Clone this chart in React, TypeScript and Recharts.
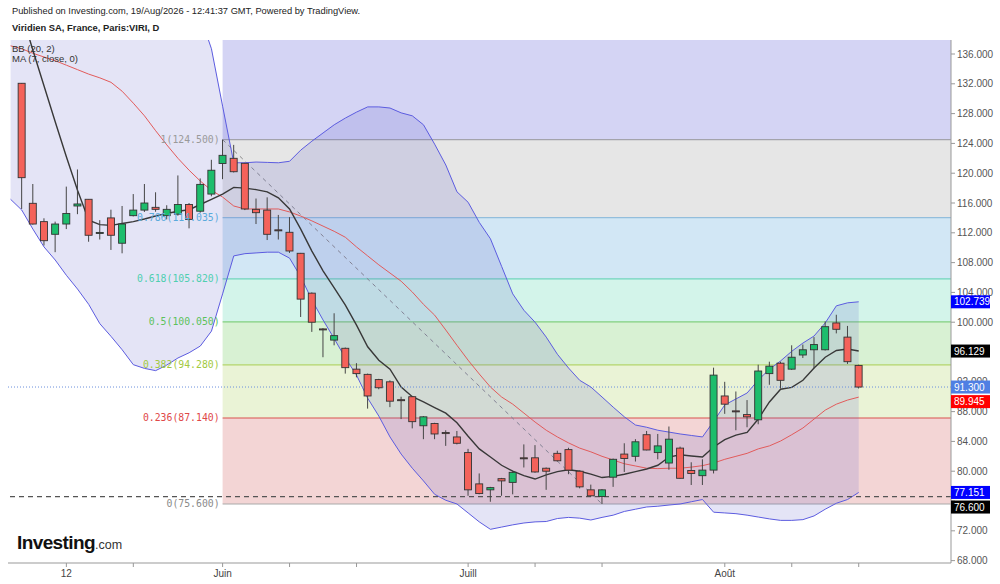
import React from 'react';
import {
  Area,
  Bar,
  ComposedChart,
  Line,
  ReferenceArea,
  ReferenceLine,
  XAxis,
  YAxis,
} from 'recharts';

// daily sessions, slot 0 = 06/05/2026 ... slot 75 = 19/08/2026
const opens = [
  132.07, 115.96, 113.5, 111.8, 113.18, 115.6, 116.5, 111.95, 114.0, 110.6,
  114.3, 115.05, 115.42, 114.3, 114.5, 115.8, 114.9, 117.2, 121.3, 122.0,
  121.33, 115.15, 115.05, 112.4, 112.07, 109.25, 103.9, 99.1, 97.6, 96.5,
  93.7, 93.0, 92.3, 92.0, 89.6, 90.0, 86.1, 86.4, 85.2, 84.6,
  82.5, 78.3, 77.5, 79.0, 78.5, 81.8, 81.8, 80.4, 82.4, 82.9,
  80.0, 77.5, 76.6, 79.2, 82.3, 82.0, 84.9, 82.5, 81.1, 83.1,
  80.1, 79.4, 80.15, 90.1, 88.1, 87.6, 86.9, 93.1, 94.5, 93.7,
  95.6, 96.3, 96.3, 99.9, 98.0, 94.2,
];
const highs = [
  132.1, 118.55, 113.95, 113.5, 118.2, 120.5, 116.5, 113.7, 115.1, 115.6,
  117.2, 118.55, 117.44, 115.7, 119.7, 116.0, 119.3, 121.8, 124.5, 123.8,
  121.4, 116.6, 116.76, 114.4, 114.1, 109.3, 104.0, 99.2, 101.2, 96.6,
  94.5, 93.1, 92.4, 92.2, 90.0, 90.1, 87.4, 86.5, 85.5, 85.4,
  83.0, 79.7, 77.9, 79.1, 80.0, 83.6, 83.5, 80.5, 82.75, 83.15,
  80.1, 78.2, 77.6, 81.7, 83.75, 84.3, 85.4, 85.0, 86.0, 83.3,
  81.2, 81.6, 93.9, 92.0, 90.7, 89.55, 94.3, 94.7, 94.7, 96.9,
  97.0, 98.0, 100.1, 101.0, 99.5, 94.3,
];
const lows = [
  115.2, 113.1, 110.3, 109.4, 112.5, 114.5, 110.8, 111.1, 109.7, 109.25,
  114.2, 114.8, 114.83, 113.8, 114.3, 112.6, 114.7, 116.9, 119.2, 120.1,
  115.05, 113.18, 111.03, 111.1, 109.3, 100.7, 98.7, 95.3, 96.9, 93.1,
  92.6, 88.4, 91.0, 88.6, 87.0, 85.75, 84.3, 84.3, 83.4, 83.6,
  76.7, 76.9, 75.9, 76.7, 76.9, 80.5, 79.8, 77.5, 81.3, 79.6,
  77.7, 76.6, 75.6, 77.9, 79.9, 81.3, 82.8, 81.6, 80.2, 79.0,
  78.15, 78.15, 79.7, 87.7, 85.5, 85.9, 86.3, 91.6, 91.1, 93.6,
  95.2, 93.8, 96.2, 98.5, 94.4, 91.1,
];
const closes = [
  119.4, 113.18, 110.94, 113.18, 114.6, 115.87, 111.67, 112.05, 111.67, 113.18,
  115.05, 116.0, 115.15, 115.15, 115.8, 113.8, 118.5, 120.4, 122.4, 120.2,
  115.2, 114.7, 111.8, 112.3, 109.56, 103.1, 100.0, 99.0, 98.2, 93.9,
  93.1, 90.1, 91.2, 89.4, 89.5, 86.65, 87.3, 85.0, 85.05, 83.75,
  77.5, 77.0, 77.8, 78.7, 79.85, 81.7, 79.9, 80.0, 81.4, 80.15,
  77.9, 76.7, 77.5, 81.6, 81.7, 83.95, 82.85, 83.4, 84.3, 79.05,
  79.7, 80.15, 92.9, 89.0, 88.0, 87.3, 93.45, 94.1, 92.2, 95.3,
  96.3, 97.0, 99.4, 99.05, 94.7, 91.3,
];

// indicators; they start one session earlier (slot -1)
const bbUpper = [
  157, 158.3, 159.7, 161.1, 161.9, 162.7, 163.4, 164.2, 165.8, 166.3, 165.7,
  164.5, 161.6, 157.9, 153.4, 148.8, 144.9, 141.1, 136.7, 129.0, 121.4,
  121.4, 121.5, 121.45, 121.4, 121.6, 123.1, 124.3, 125.4, 126.5, 127.4,
  128.2, 128.9, 128.9, 128.75, 128.1, 127.7, 126.5, 123.9, 121.1, 117.5,
  116.1, 113.4, 111.2, 107.5, 103.8, 101.6, 100.0, 98.0, 95.7, 93.85,
  92.2, 91.3, 89.96, 88.6, 87.3, 86.2, 85.9, 85.5, 85.25, 85.0,
  84.8, 84.6, 86.7, 88.9, 89.7, 90.5, 92.24, 93.7, 94.8, 96.1,
  97.2, 98.15, 99.9, 102.2, 102.6, 102.739,
];
const bbMid = [
  137.1, 136.7, 136.1, 135.6, 135.1, 134.5, 133.9, 133.3, 132.8, 132.2, 131.0,
  129.4, 127.7, 125.7, 123.8, 122.0, 120.4, 118.95, 117.7, 116.8, 115.6,
  115.2, 115.2, 115.2, 115.2, 114.8, 114.25, 113.6, 112.9, 112.2, 111.4,
  110.1, 108.9, 107.7, 106.6, 105.5, 104.05, 102.4, 100.95, 98.95, 96.9,
  94.9, 93.05, 91.3, 89.96, 89.0, 87.8, 86.6, 85.5, 84.6, 83.8,
  83.1, 82.6, 82.0, 81.5, 81.0, 80.7, 80.4, 80.35, 80.4, 80.4,
  80.55, 80.75, 81.1, 81.6, 82.0, 82.4, 83.0, 83.4, 84.05, 84.9,
  85.8, 87.0, 88.2, 89.0, 89.55, 89.945,
];
const bbLower = [
  116.5, 115.06, 112.5, 110.1, 108.35, 106.3, 104.45, 102.4, 99.8, 98.1, 96.3,
  94.3, 93.8, 93.5, 94.25, 95.2, 95.9, 96.8, 98.8, 103.8, 108.9,
  109.2, 109.3, 109.4, 109.4, 108.6, 106.1, 103.0, 100.3, 97.8, 95.2,
  92.9, 89.8, 87.4, 84.6, 82.3, 80.4, 78.7, 76.9, 76.1, 75.6,
  74.4, 73.2, 72.2, 72.5, 72.8, 73.05, 73.2, 73.25, 73.65, 73.8,
  73.7, 73.45, 73.8, 74.1, 74.6, 74.9, 75.2, 75.3, 75.46, 75.6,
  75.9, 76.2, 74.5, 74.4, 74.3, 74.1, 73.85, 73.6, 73.4, 73.4,
  73.5, 74.0, 74.9, 75.7, 76.2, 77.151,
];
const ma7 = [
  144.5, 141.5, 136.5, 131.7, 126.9, 122.2, 117.7, 113.7, 113.1, 113.0, 113.25,
  113.5, 113.85, 114.25, 114.6, 114.9, 115.1, 115.8, 116.5, 117.2, 118.1,
  118.0, 117.8, 117.5, 116.7, 115.2, 112.5, 109.55, 106.9, 104.6, 102.3,
  99.6, 96.7, 94.9, 93.7, 91.3, 90.0, 89.3, 88.55, 87.8, 86.5,
  84.7, 83.0, 81.9, 80.8, 80.0, 79.4, 78.95, 79.5, 79.95, 80.2,
  80.0, 79.6, 79.15, 79.3, 79.6, 79.95, 80.3, 80.8, 81.9, 82.2,
  82.05, 81.9, 83.25, 84.25, 84.85, 85.2, 87.0, 89.3, 91.0, 91.25,
  92.2, 93.85, 95.3, 96.2, 96.4, 96.129,
];

const tickSlots = [4, 10, 18, 24, 30, 40, 46, 52, 63, 69, 75];
const tickNames = ['12', '', 'Juin', '', '', 'Juill', '', '', 'Août', '', ''];
const priceTicks = [68, 72, 76, 80, 84, 88, 92, 96, 100, 104, 108, 112, 116, 120, 124, 128, 132, 136];

// fibonacci retracement from the 01/06 high to the 17/07 low
const fibLevels = [1, 0.786, 0.618, 0.5, 0.382, 0.236, 0];
const fibPrices = [124.5, 114.035, 105.82, 100.05, 94.28, 87.14, 75.6];
const fibFrom = 18;
const fibTo = 52;
const supportLine = 76.6;

const fibLineColors = ['#a3a3ab', '#93bedc', '#6fd3bd', '#80cf80', '#b2d56a', '#d9534f', '#aaaaaa'];
const fibTextColors = ['#9a9a9a', '#5aaadc', '#4fcfb0', '#5cc25c', '#a2c940', '#e04848', '#8a8a8a'];
const fibZoneColors = ['#d4d4f4', '#e6e6e6', '#d2e7f5', '#d3f4ea', '#d8f1d3', '#eaf3d6', '#f3d5d5'];

const X_MIN = -1.23;
const X_MAX = 83.27;
const Y_MIN = 67.68;
const Y_MAX = 137.88;
const AXIS_W = 49;

const rows = bbMid.map((_, k) => {
  const i = k - 1;
  const has = i >= 0;
  return {
    i,
    o: has ? opens[i] : null,
    h: has ? highs[i] : null,
    l: has ? lows[i] : null,
    c: has ? closes[i] : null,
    up: bbUpper[k],
    mid: bbMid[k],
    low: bbLower[k],
    ma: ma7[k],
  };
});

const last = (a: number[]) => a[a.length - 1];

// last values shown as coloured boxes on the price scale (dy: pushed apart like TradingView does)
const tags = [
  { v: last(bbUpper), bg: '#0000ff', dy: 0 },
  { v: last(ma7), bg: '#000000', dy: 0 },
  { v: last(closes), bg: '#4f7fe3', dy: 0 },
  { v: last(bbMid), bg: '#ff0000', dy: 4.5 },
  { v: last(bbLower), bg: '#0000ff', dy: 0 },
  { v: supportLine, bg: '#000000', dy: 10.5 },
];

// tag values go last so they are painted over the regular labels
const axisTicks = [...priceTicks, ...tags.map((t) => t.v)];

function Candle(props: any) {
  const { x, y, width, height, payload } = props;
  if (payload == null || payload.o == null) return null;
  const { o, h, l, c } = payload;
  const top = Math.min(y, y + height);
  const span = Math.abs(height);
  const range = h - l || 1;
  const py = (v: number) => top + ((h - v) / range) * span;
  const bull = c >= o;
  const bTop = py(Math.max(o, c));
  const bBot = py(Math.min(o, c));
  const cx = x + width / 2;
  return (
    <g>
      <line x1={cx} x2={cx} y1={top} y2={top + span} stroke="#454545" strokeWidth={1} />
      <rect
        x={x}
        y={bTop}
        width={width}
        height={Math.max(bBot - bTop, 1)}
        fill={bull ? '#1dbd6c' : '#f4625a'}
        stroke="#333"
        strokeWidth={0.9}
      />
    </g>
  );
}

function PriceTick(p: any) {
  const v = Number(p.payload.value);
  const t = tags.find((tg) => Math.abs(tg.v - v) < 1e-6);
  if (t) {
    const x0 = p.x - 6; // back to the axis line
    const y = p.y + t.dy;
    return (
      <g>
        <rect x={x0} y={y - 6.5} width={39} height={13} fill={t.bg} />
        <text x={x0 + 3} y={y + 3.6} fill="#fff" fontSize={10}>
          {t.v.toFixed(3)}
        </text>
      </g>
    );
  }
  // plain labels hidden under a tag
  if (tags.some((tg) => Math.abs(tg.v - v) < 0.65)) return null;
  return (
    <text x={p.x} y={p.y} dy="0.355em" textAnchor="start" fill="#555" fontSize={10}>
      {v.toFixed(3)}
    </text>
  );
}

export default function App() {
  const zoneTops = [Y_MAX, ...fibPrices.slice(0, -1)];
  return (
    <div
      style={{
        position: 'absolute',
        left: 0,
        top: 0,
        width: 1000,
        height: 584,
        background: '#fff',
        overflow: 'hidden',
        fontFamily: "'Liberation Sans', Arial, sans-serif",
      }}
    >
      <div style={{ position: 'absolute', left: 12, top: 6, fontSize: 9.3, color: '#222', whiteSpace: 'nowrap' }}>
        Published on Investing.com, 19/Aug/2026 - 12:41:37 GMT, Powered by TradingView.
      </div>
      <div
        style={{ position: 'absolute', left: 12, top: 22, fontSize: 9.4, fontWeight: 'bold', color: '#222', whiteSpace: 'nowrap' }}
      >
        Viridien SA, France, Paris:VIRI, D
      </div>

      <ComposedChart width={1000} height={584} data={rows} margin={{ top: 40, right: 0, bottom: 0, left: 8 }}>
        {zoneTops.map((t, k) => (
          <ReferenceArea
            key={'z' + k}
            x1={fibFrom}
            x2={X_MAX}
            y1={fibPrices[k]}
            y2={t}
            fill={fibZoneColors[k]}
            fillOpacity={1}
            stroke="none"
            ifOverflow="hidden"
            zIndex={-60}
          />
        ))}
        {fibPrices.map((p, k) => (
          <ReferenceLine
            key={'f' + k}
            segment={[
              { x: fibFrom, y: p },
              { x: X_MAX, y: p },
            ]}
            stroke={fibLineColors[k]}
            strokeWidth={1.2}
            ifOverflow="visible"
            zIndex={-50}
            label={{
              value: `${fibLevels[k]}(${p.toFixed(3)})`,
              position: 'left',
              offset: 3,
              fill: fibTextColors[k],
              fontSize: 9.8,
              fontFamily: "'DejaVu Sans Mono', monospace",
            }}
          />
        ))}
        <ReferenceLine
          segment={[
            { x: fibFrom, y: fibPrices[0] },
            { x: fibTo, y: last(fibPrices) },
          ]}
          stroke="#8a8a8a"
          strokeDasharray="4 4"
          ifOverflow="visible"
          zIndex={-40}
        />

        <XAxis
          type="number"
          dataKey="i"
          domain={[X_MIN, X_MAX]}
          allowDataOverflow
          ticks={tickSlots}
          tickFormatter={(v) => tickNames[tickSlots.indexOf(v)] ?? ''}
          interval={0}
          height={21}
          tickSize={4}
          tickMargin={3}
          stroke="#999"
          tick={{ fill: '#444', fontSize: 10 }}
        />
        <YAxis
          orientation="right"
          type="number"
          domain={[Y_MIN, Y_MAX]}
          allowDataOverflow
          ticks={axisTicks}
          interval={0}
          width={AXIS_W}
          tickSize={4}
          tickMargin={2}
          stroke="#999"
          tick={PriceTick}
        />

        <Area
          dataKey={(d: any) => [d.low, d.up]}
          type="linear"
          fill="#5c5cc8"
          fillOpacity={0.17}
          stroke="none"
          isAnimationActive={false}
        />
        <Line dataKey="up" type="linear" stroke="#5c5ce0" strokeWidth={1} dot={false} isAnimationActive={false} />
        <Line dataKey="low" type="linear" stroke="#5c5ce0" strokeWidth={1} dot={false} isAnimationActive={false} />
        <Line dataKey="mid" type="linear" stroke="#e25b5b" strokeWidth={1} dot={false} isAnimationActive={false} />
        <Line dataKey="ma" type="linear" stroke="#383838" strokeWidth={1.4} dot={false} isAnimationActive={false} />

        <Bar
          dataKey={(d: any) => (d.o == null ? null : [d.l, d.h])}
          barSize={7}
          shape={Candle}
          isAnimationActive={false}
          zIndex={450}
        />

        <ReferenceLine y={last(closes)} stroke="#6b8fdc" strokeDasharray="1 2" ifOverflow="visible" />
        <ReferenceLine y={supportLine} stroke="#555" strokeDasharray="5 4" strokeWidth={1.2} ifOverflow="visible" />
      </ComposedChart>

      <div style={{ position: 'absolute', left: 12, top: 44, fontSize: 9.5, lineHeight: '10px', color: '#333' }}>
        BB (20, 2)
        <br />
        MA (7, close, 0)
      </div>
      <div style={{ position: 'absolute', left: 17, top: 532, whiteSpace: 'nowrap', color: '#111' }}>
        <span style={{ fontSize: 19, fontWeight: 900, letterSpacing: -0.6 }}>Investing</span>
        <span style={{ fontSize: 12.5, color: '#333' }}>.com</span>
      </div>
    </div>
  );
}
